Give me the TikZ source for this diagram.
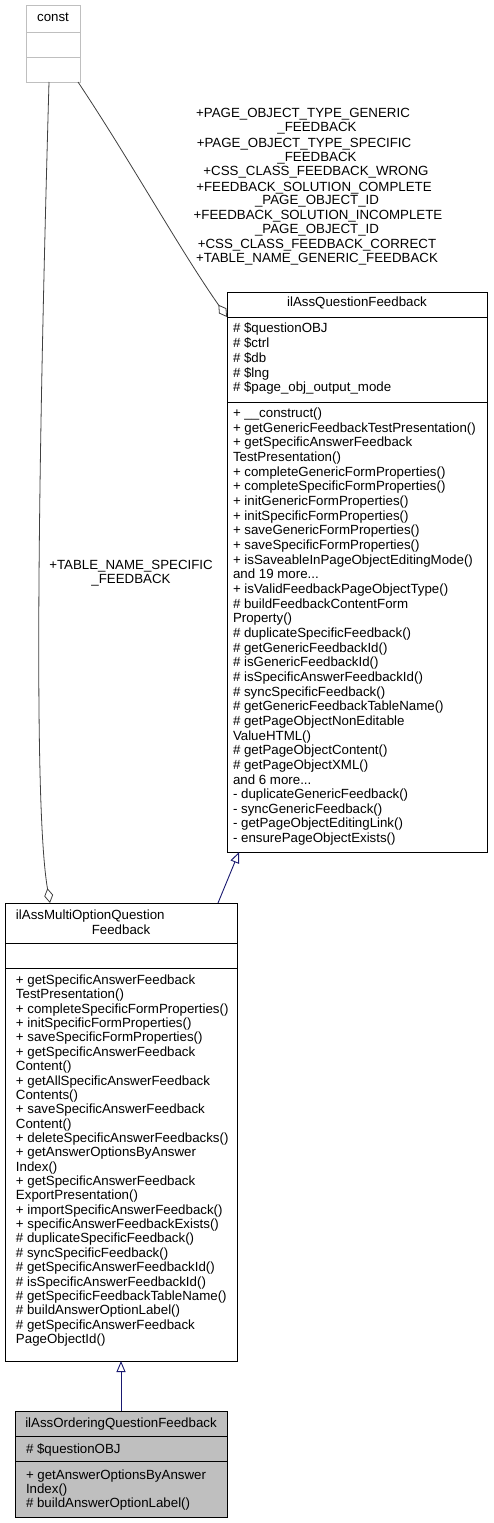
\documentclass[tikz,border=0pt]{standalone}
\usepackage{fontspec}
\setmainfont{Liberation Sans}
\usetikzlibrary{arrows.meta,calc}
\definecolor{lgrey}{HTML}{BFBFBF}
\definecolor{dgrey}{HTML}{404040}
\definecolor{navy}{HTML}{191970}
\definecolor{boxfill}{HTML}{BFBFBF}
\newcommand\mydots{...}
\begin{document}
\begin{tikzpicture}[x=1pt,y=-1pt,
  box/.style={draw=black, line width=0.9pt, fill=white, inner sep=0pt, outer sep=0pt, anchor=north west},
  cbox/.style={box, draw=lgrey},
  txt/.style={font=\fontsize{13.3}{14.6}\selectfont, inner sep=0pt, outer sep=0pt, anchor=base west, text=black},
  ctxt/.style={txt, anchor=base},
  sep/.style={draw=black, line width=0.9pt},
  csep/.style={draw=lgrey, line width=0.9pt},
  agg/.style={draw=dgrey, line width=0.8pt, -{Diamond[open,length=15pt,width=9pt]}},
  gen/.style={draw=navy, line width=0.9pt, -{Triangle[open,length=11pt,width=9pt]}}
]
\useasboundingbox[fill=white] (0,0) rectangle (493,1523);

% ---------- const ----------
\node[cbox, minimum width=54pt, minimum height=77pt] (const) at (26,5) {};
\draw[csep] (26,32) -- (80,32);
\draw[csep] (26,57) -- (80,57);
\node[ctxt] (constname) at (53,21.5) {const};

% ---------- ilAssQuestionFeedback ----------
\node[box, minimum width=260pt, minimum height=560pt] (qf) at (227,292) {};
\draw[sep] (227,317) -- (487,317);
\draw[sep] (227,402) -- (487,402);
\node[ctxt] (qfname) at (357,306.5) {ilAssQuestionFeedback};
\foreach \t [count=\i from 0] in {{\# \$questionOBJ},{\# \$ctrl},{\# \$db},{\# \$lng},{\# \$page\_obj\_output\_mode}}
  \node[txt] (qa\i) at (233,{332.8+\i*14.75}) {\t};
\foreach \t [count=\i from 0] in {
  {+ \_\_construct()},
  {+ getGenericFeedbackTestPresentation()},
  {+ getSpecificAnswerFeedback},
  {TestPresentation()},
  {+ completeGenericFormProperties()},
  {+ completeSpecificFormProperties()},
  {+ initGenericFormProperties()},
  {+ initSpecificFormProperties()},
  {+ saveGenericFormProperties()},
  {+ saveSpecificFormProperties()},
  {+ isSaveableInPageObjectEditingMode()},
  {and 19 more\mydots},
  {+ isValidFeedbackPageObjectType()},
  {\# buildFeedbackContentForm},
  {Property()},
  {\# duplicateSpecificFeedback()},
  {\# getGenericFeedbackId()},
  {\# isGenericFeedbackId()},
  {\# isSpecificAnswerFeedbackId()},
  {\# syncSpecificFeedback()},
  {\# getGenericFeedbackTableName()},
  {\# getPageObjectNonEditable},
  {ValueHTML()},
  {\# getPageObjectContent()},
  {\# getPageObjectXML()},
  {and 6 more\mydots},
  {- duplicateGenericFeedback()},
  {- syncGenericFeedback()},
  {- getPageObjectEditingLink()},
  {- ensurePageObjectExists()}}
  \node[txt] (qm\i) at (233,{417.5+\i*14.66}) {\t};

% ---------- ilAssMultiOptionQuestionFeedback ----------
\node[box, minimum width=232pt, minimum height=458pt] (multi) at (5,903) {};
\draw[sep] (5,943) -- (237,943);
\draw[sep] (5,968) -- (237,968);
\node[txt] (mname1) at (16,919.5) {ilAssMultiOptionQuestion};
\node[ctxt] (mname2) at (121,934.5) {Feedback};
\foreach \t [count=\i from 0] in {
  {+ getSpecificAnswerFeedback},
  {TestPresentation()},
  {+ completeSpecificFormProperties()},
  {+ initSpecificFormProperties()},
  {+ saveSpecificFormProperties()},
  {+ getSpecificAnswerFeedback},
  {Content()},
  {+ getAllSpecificAnswerFeedback},
  {Contents()},
  {+ saveSpecificAnswerFeedback},
  {Content()},
  {+ deleteSpecificAnswerFeedbacks()},
  {+ getAnswerOptionsByAnswer},
  {Index()},
  {+ getSpecificAnswerFeedback},
  {ExportPresentation()},
  {+ importSpecificAnswerFeedback()},
  {+ specificAnswerFeedbackExists()},
  {\# duplicateSpecificFeedback()},
  {\# syncSpecificFeedback()},
  {\# getSpecificAnswerFeedbackId()},
  {\# isSpecificAnswerFeedbackId()},
  {\# getSpecificFeedbackTableName()},
  {\# buildAnswerOptionLabel()},
  {\# getSpecificAnswerFeedback},
  {PageObjectId()}}
  \node[txt] (mm\i) at (16,{984.5+\i*14.36}) {\t};

% ---------- ilAssOrderingQuestionFeedback ----------
\node[box, fill=boxfill, minimum width=212pt, minimum height=106pt] (ord) at (15,1411) {};
\draw[sep] (15,1436) -- (227,1436);
\draw[sep] (15,1461) -- (227,1461);
\node[ctxt] (oname) at (121,1427.5) {ilAssOrderingQuestionFeedback};
\node[txt] (oa0) at (26,1453.5) {\# \$questionOBJ};
\node[txt] (om0) at (26,1479) {+ getAnswerOptionsByAnswer};
\node[txt] (om1) at (26,1493) {Index()};
\node[txt] (om2) at (26,1507.5) {\# buildAnswerOptionLabel()};

% ---------- connectors ----------
\draw[agg] ($(const.south west)+(23,0)$) .. controls (40,400) and (32,800) .. ($(multi.north west)+(45,0)$);
\draw[agg] ($(const.south east)+(-2,0)$) .. controls (130,160) and (180,250) .. ($(qf.north west)+(0,25)$);
\draw[gen] ($(multi.north west)+(213,0)$) -- ($(qf.south west)+(12,0)$);
\draw[gen] ($(ord.north west)+(106,0)$) -- ($(multi.south west)+(116,0)$);

% ---------- labels ----------
\foreach \cx/\cy/\t [count=\i] in {
  303/117.2/{+PAGE\_OBJECT\_TYPE\_GENERIC},
  317/131.2/{\_FEEDBACK},
  304/147.2/{+PAGE\_OBJECT\_TYPE\_SPECIFIC},
  317/161.2/{\_FEEDBACK},
  316/175.2/{+CSS\_CLASS\_FEEDBACK\_WRONG},
  314/191.2/{+FEEDBACK\_SOLUTION\_COMPLETE},
  317/204.5/{\_PAGE\_OBJECT\_ID},
  318/219.5/{+FEEDBACK\_SOLUTION\_INCOMPLETE},
  317/233.5/{\_PAGE\_OBJECT\_ID},
  317/248.5/{+CSS\_CLASS\_FEEDBACK\_CORRECT},
  317/262.5/{+TABLE\_NAME\_GENERIC\_FEEDBACK}}
  \node[ctxt] (lab\i) at (\cx,\cy) {\t};
\node[ctxt] (lbs1) at (131,569.5) {+TABLE\_NAME\_SPECIFIC};
\node[ctxt] (lbs2) at (131,583.5) {\_FEEDBACK};
\end{tikzpicture}
\end{document}
